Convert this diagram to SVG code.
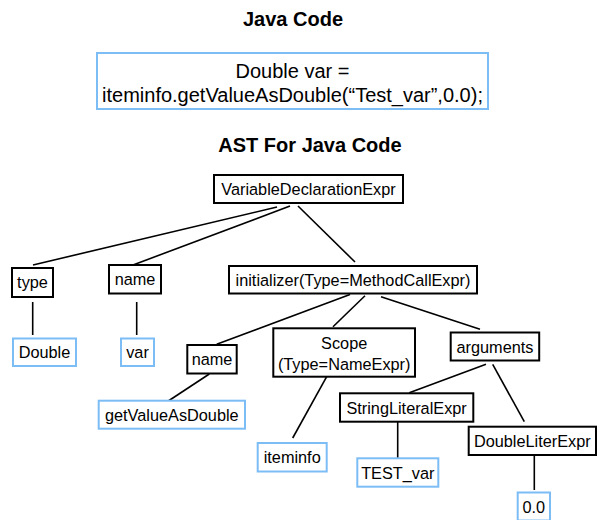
<svg xmlns="http://www.w3.org/2000/svg" width="597" height="520" viewBox="0 0 597 520">
<style>
  text { font-family: "Liberation Sans", Arial, sans-serif; fill: #000; }
  .title { font-size: 20px; font-weight: bold; text-anchor: middle; }
  .code { font-size: 20px; text-anchor: middle; }
  .lbl { font-size: 16.3px; text-anchor: middle; }
  .node { fill: #fff; stroke: #000; stroke-width: 2; }
  .leaf { fill: #fff; stroke: #7DBDF5; stroke-width: 2; }
  .edge { stroke: #000; stroke-width: 1.6; fill: none; }
</style>
<rect width="597" height="520" fill="#fff"/>
<text class="title" x="293" y="26">Java Code</text>
<g id="code">
  <rect class="leaf" x="97" y="53" width="391" height="56"/>
  <text class="code" x="292.5" y="78">Double var =</text>
  <text class="code" x="292.5" y="102">iteminfo.getValueAsDouble(“Test_var”,0.0);</text>
</g>
<text class="title" x="310" y="151.5">AST For Java Code</text>
<g id="connectors">
  <line class="edge" x1="277" y1="207" x2="33" y2="265"/>
  <line class="edge" x1="290" y1="206" x2="133" y2="265"/>
  <line class="edge" x1="298" y1="206" x2="355" y2="262"/>
  <line class="edge" x1="32.7" y1="302" x2="32.7" y2="335"/>
  <line class="edge" x1="136.7" y1="302" x2="136.7" y2="335"/>
  <line class="edge" x1="350" y1="294.5" x2="216.7" y2="344.3"/>
  <line class="edge" x1="365" y1="295.7" x2="333" y2="326.7"/>
  <line class="edge" x1="381" y1="296.7" x2="480" y2="329.3"/>
  <line class="edge" x1="209.3" y1="374" x2="168.3" y2="401"/>
  <line class="edge" x1="326.7" y1="376.7" x2="292.7" y2="438"/>
  <line class="edge" x1="486" y1="364.3" x2="409.3" y2="392.7"/>
  <line class="edge" x1="492.7" y1="364.3" x2="524.3" y2="421.7"/>
  <line class="edge" x1="397.7" y1="421.7" x2="397.7" y2="458.3"/>
  <line class="edge" x1="534.3" y1="455" x2="534.3" y2="490"/>
</g>
<g id="n-vde">
  <rect class="node" x="214" y="175" width="189" height="28"/>
  <text class="lbl" x="308.5" y="195">VariableDeclarationExpr</text>
</g>
<g id="n-type">
  <rect class="node" x="12" y="268" width="41" height="29"/>
  <text class="lbl" x="32.5" y="288">type</text>
</g>
<g id="n-name1">
  <rect class="node" x="109" y="265" width="52" height="28.5"/>
  <text class="lbl" x="135" y="285">name</text>
</g>
<g id="n-init">
  <rect class="node" x="229" y="266" width="248" height="27.5"/>
  <text class="lbl" x="353" y="285.5">initializer(Type=MethodCallExpr)</text>
</g>
<g id="n-double">
  <rect class="leaf" x="13" y="338.5" width="63" height="27.5"/>
  <text class="lbl" x="44.5" y="358">Double</text>
</g>
<g id="n-var">
  <rect class="leaf" x="121" y="338.5" width="33" height="27.5"/>
  <text class="lbl" x="137.5" y="358">var</text>
</g>
<g id="n-name2">
  <rect class="node" x="187.3" y="345" width="49.4" height="28.5"/>
  <text class="lbl" x="212" y="365">name</text>
</g>
<g id="n-scope">
  <rect class="node" x="273.3" y="328.3" width="141.7" height="48.4"/>
  <text class="lbl" x="344.2" y="349.3">Scope</text>
  <text class="lbl" x="344.2" y="370">(Type=NameExpr)</text>
</g>
<g id="n-args">
  <rect class="node" x="450.7" y="332.5" width="88.5" height="28"/>
  <text class="lbl" x="495" y="352.5">arguments</text>
</g>
<g id="n-getvalue">
  <rect class="leaf" x="98.7" y="400.7" width="146.3" height="28"/>
  <text class="lbl" x="171.8" y="420.5">getValueAsDouble</text>
</g>
<g id="n-strlit">
  <rect class="node" x="340" y="393.3" width="133.3" height="28.4"/>
  <text class="lbl" x="406.6" y="413.5">StringLiteralExpr</text>
</g>
<g id="n-dbllit">
  <rect class="node" x="468.7" y="426.7" width="127.3" height="28.3"/>
  <text class="lbl" x="532.3" y="447">DoubleLiterExpr</text>
</g>
<g id="n-iteminfo">
  <rect class="leaf" x="257.7" y="443" width="69" height="28.5"/>
  <text class="lbl" x="292.2" y="463">iteminfo</text>
</g>
<g id="n-testvar">
  <rect class="leaf" x="357.3" y="458.3" width="81" height="28.4"/>
  <text class="lbl" x="397.8" y="478.5">TEST_var</text>
</g>
<g id="n-zero">
  <rect class="leaf" x="517.7" y="492.5" width="32.3" height="28"/>
  <text class="lbl" x="533.8" y="512.5">0.0</text>
</g>
</svg>
